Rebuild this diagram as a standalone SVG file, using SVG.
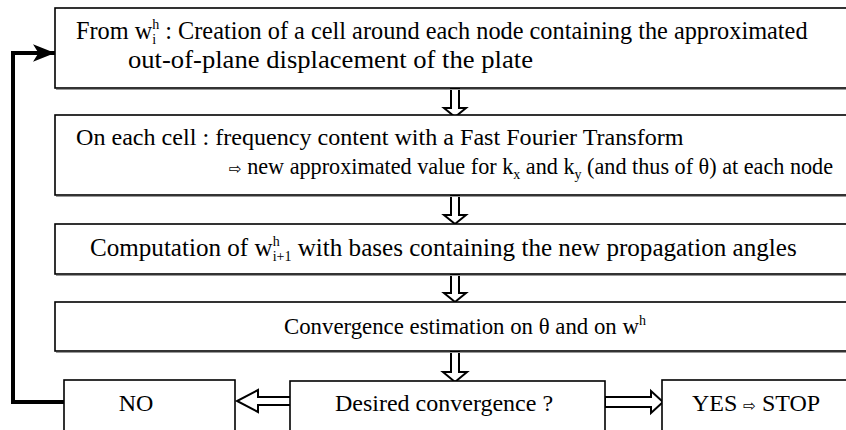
<svg xmlns="http://www.w3.org/2000/svg" width="846" height="430" viewBox="0 0 846 430">
<defs>
<style>
.box{fill:#fff;stroke:#000;stroke-width:1.6}
.shadow{fill:none;stroke:#999;stroke-width:1}
.t{font-family:"Liberation Serif","Times New Roman",serif;font-size:24px;fill:#000}
.s{font-size:14px}
.arr{fill:#fff;stroke:#000;stroke-width:2;stroke-linejoin:miter}
.loop{fill:none;stroke:#000;stroke-width:4}
.sym{font-family:"DejaVu Sans",sans-serif;font-size:15px}
</style>
<marker id="head" viewBox="0 0 20 16" refX="20" refY="8" markerWidth="5.5" markerHeight="4.4" orient="auto" markerUnits="strokeWidth">
<path d="M0,0 L20,8 L0,16 L5,8 Z" fill="#000"/>
</marker>
</defs>
<rect width="846" height="430" fill="#fff"/>

<g id="connectors">
<polyline class="loop" points="64,402 13,402 13,53 55,53" marker-end="url(#head)"/>
<path class="arr" d="M451,88 L451,108 L444,108 L455,117 L466,108 L459,108 L459,88 Z"/>
<path class="arr" d="M451,195 L451,215 L444,215 L455,224 L466,215 L459,215 L459,195 Z"/>
<path class="arr" d="M451,274 L451,293 L444,293 L455,302 L466,293 L459,293 L459,274 Z"/>
<path class="arr" d="M451,351 L451,372 L443,372 L455,382 L467,372 L459,372 L459,351 Z"/>
<path class="arr" d="M292,397 L258,397 L258,390 L237,401 L258,412 L258,405 L292,405 Z"/>
<path class="arr" d="M605,397 L651,397 L651,391 L663,402 L651,413 L651,407 L605,407 Z"/>
</g>

<g id="n1">
<rect class="box" x="55" y="8" width="800" height="80"/>
<line class="shadow" x1="56" y1="89.5" x2="846" y2="89.5"/>
<text class="t" x="76" y="39" style="font-size:24.3px">From w<tspan class="s" dy="-10">h</tspan><tspan class="s" dx="-7" dy="15">i</tspan><tspan dx="3" dy="-5"> : Creation of a cell around each node containing the approximated</tspan></text>
<text class="t" x="128" y="68" style="font-size:24.5px" textLength="405" lengthAdjust="spacingAndGlyphs">out-of-plane displacement of the plate</text>
</g>

<g id="n2">
<rect class="box" x="55" y="115" width="800" height="80"/>
<line class="shadow" x1="56" y1="196.5" x2="846" y2="196.5"/>
<text class="t" x="76" y="145" style="font-size:24.1px">On each cell : frequency content with a Fast Fourier Transform</text>
<text class="t" x="229" y="174" style="font-size:22.2px"><tspan class="sym">⇨</tspan> new approximated value for k<tspan class="s" dy="5">x</tspan><tspan dy="-5"> and k</tspan><tspan class="s" dy="5">y</tspan><tspan dy="-5"> (and thus of θ) at each node</tspan></text>
</g>

<g id="n3">
<rect class="box" x="55" y="224" width="800" height="50"/>
<line class="shadow" x1="56" y1="275.5" x2="846" y2="275.5"/>
<text class="t" x="90" y="256" style="font-size:25.1px">Computation of w<tspan class="s" dy="-10">h</tspan><tspan class="s" dx="-7" dy="15">i+1</tspan><tspan dy="-5"> with bases containing the new propagation angles</tspan></text>
</g>

<g id="n4">
<rect class="box" x="55" y="302" width="800" height="49"/>
<line class="shadow" x1="56" y1="352.5" x2="846" y2="352.5"/>
<text class="t" x="284" y="334" style="font-size:22.8px">Convergence estimation on θ and on w<tspan class="s" dy="-9">h</tspan></text>
</g>

<g id="n5">
<rect class="box" x="64" y="380" width="171" height="60"/>
<text class="t" x="136" y="411" text-anchor="middle">NO</text>
</g>

<g id="n6">
<rect class="box" x="290" y="381" width="315" height="60"/>
<text class="t" x="444" y="411" text-anchor="middle">Desired convergence ?</text>
</g>

<g id="n7">
<rect class="box" x="662" y="380" width="200" height="60"/>
<text class="t" x="692" y="411">YES <tspan class="sym">⇨</tspan> STOP</text>
</g>
</svg>
